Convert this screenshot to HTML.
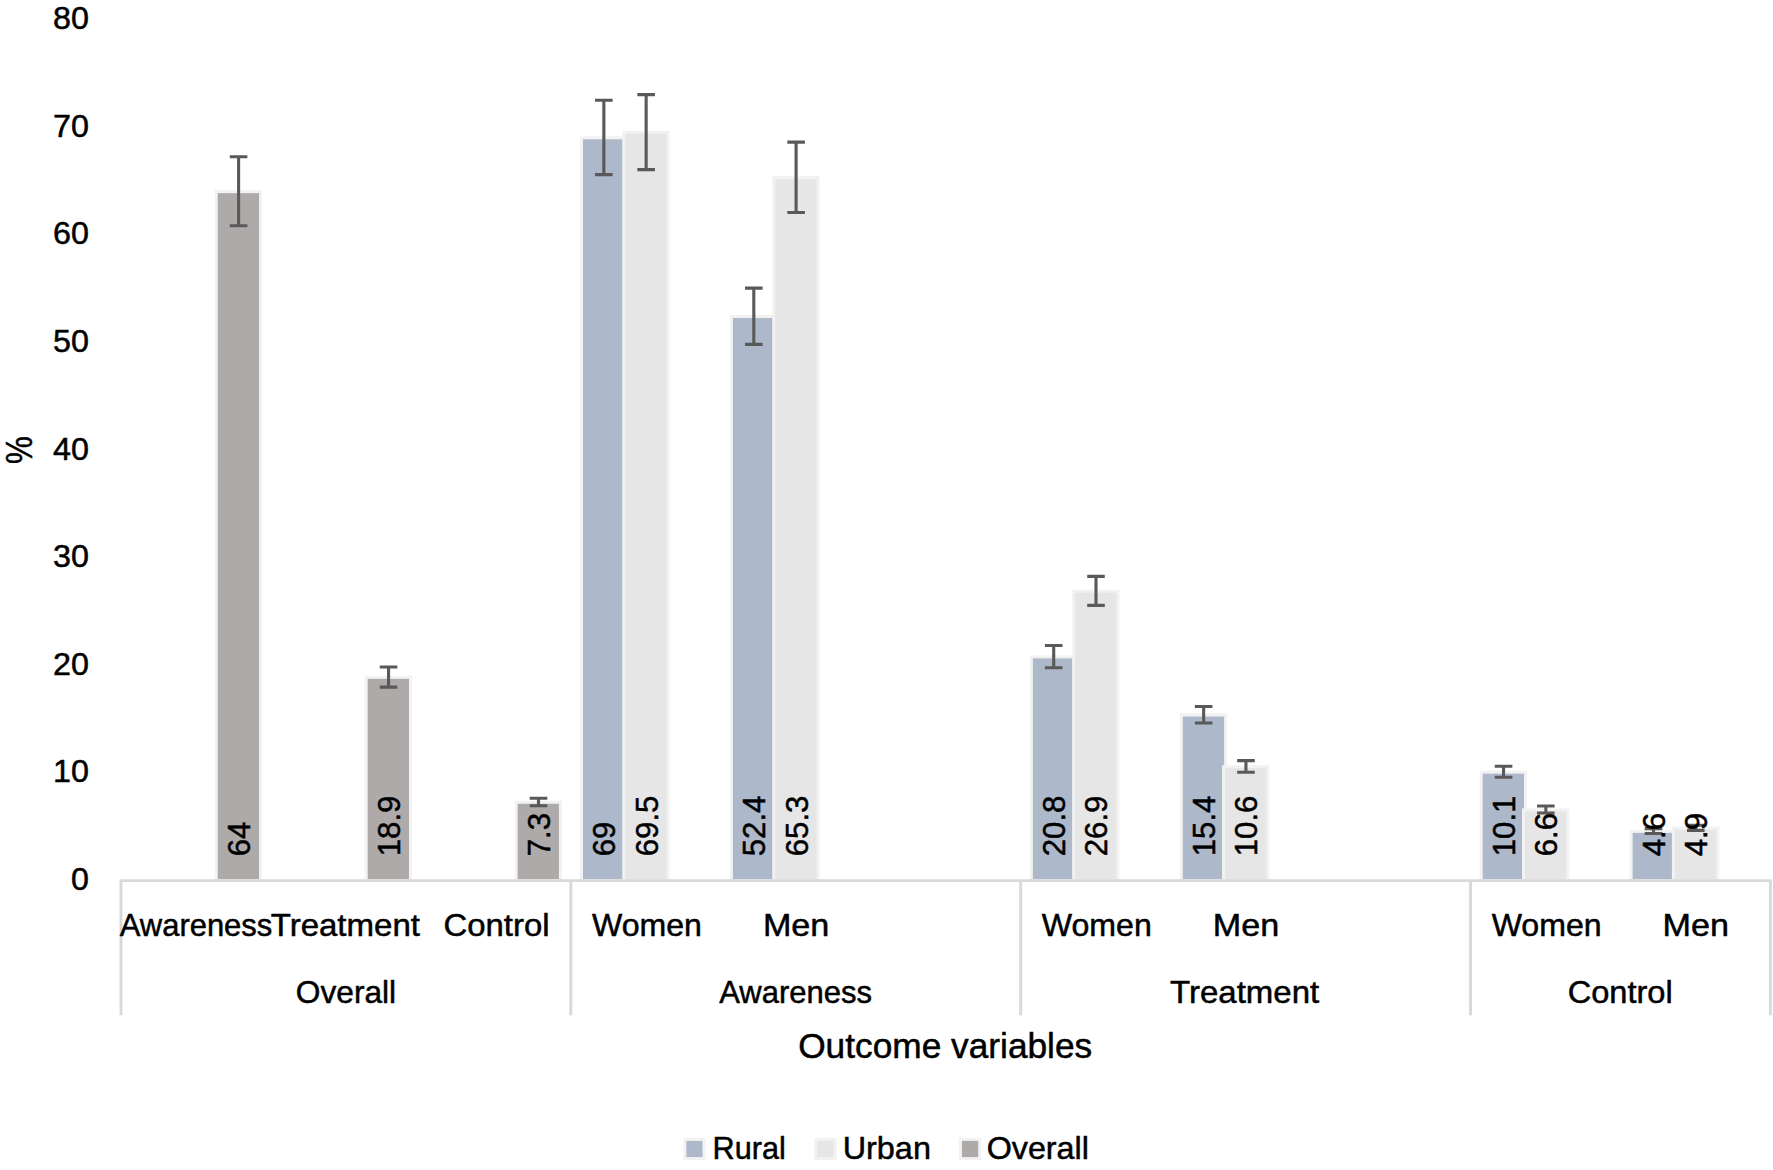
<!DOCTYPE html>
<html lang="en"><head><meta charset="utf-8"><title>Outcome variables chart</title>
<style>
html,body{margin:0;padding:0;background:#fff;}
body{width:1773px;height:1170px;overflow:hidden;}
svg{display:block;}
text{font-family:"Liberation Sans",sans-serif;fill:#000;stroke:#000;stroke-width:0.5px;stroke-linejoin:round;}
.bar{stroke:#f2f2f2;stroke-width:3;}
.ax{stroke:#d9d9d9;stroke-width:3;fill:none;}
.err{stroke:#595959;stroke-width:3.1;fill:none;}
</style></head><body>
<svg width="1773" height="1170" viewBox="0 0 1773 1170">
<rect width="1773" height="1170" fill="#ffffff"/>
<g font-size="32" text-anchor="end">
<text x="89.0" y="890.0" textLength="17.9" lengthAdjust="spacingAndGlyphs">0</text>
<text x="89.0" y="782.4" textLength="35.9" lengthAdjust="spacingAndGlyphs">10</text>
<text x="89.0" y="674.8" textLength="35.9" lengthAdjust="spacingAndGlyphs">20</text>
<text x="89.0" y="567.1" textLength="35.9" lengthAdjust="spacingAndGlyphs">30</text>
<text x="89.0" y="459.5" textLength="35.9" lengthAdjust="spacingAndGlyphs">40</text>
<text x="89.0" y="351.9" textLength="35.9" lengthAdjust="spacingAndGlyphs">50</text>
<text x="89.0" y="244.2" textLength="35.9" lengthAdjust="spacingAndGlyphs">60</text>
<text x="89.0" y="136.6" textLength="35.9" lengthAdjust="spacingAndGlyphs">70</text>
<text x="89.0" y="29.0" textLength="35.9" lengthAdjust="spacingAndGlyphs">80</text>
</g>
<text transform="translate(32.3,464.1) rotate(-90)" font-size="37.6" textLength="27.8" lengthAdjust="spacingAndGlyphs">%</text>
<g>
<rect class="bar" x="216.25" y="191.62" width="44.3" height="688.88" fill="#aeaaaa"/>
<rect class="bar" x="366.20" y="677.35" width="44.3" height="203.15" fill="#aeaaaa"/>
<rect class="bar" x="516.15" y="802.28" width="44.3" height="78.22" fill="#aeaaaa"/>
<rect class="bar" x="581.50" y="137.77" width="44.3" height="742.73" fill="#adb9ca"/>
<rect class="bar" x="623.80" y="132.38" width="44.3" height="748.12" fill="#e7e6e6"/>
<rect class="bar" x="731.45" y="316.55" width="44.3" height="563.95" fill="#adb9ca"/>
<rect class="bar" x="773.75" y="177.62" width="44.3" height="702.88" fill="#e7e6e6"/>
<rect class="bar" x="1031.35" y="656.88" width="44.3" height="223.62" fill="#adb9ca"/>
<rect class="bar" x="1073.65" y="591.19" width="44.3" height="289.31" fill="#e7e6e6"/>
<rect class="bar" x="1181.30" y="715.04" width="44.3" height="165.46" fill="#adb9ca"/>
<rect class="bar" x="1223.60" y="766.74" width="44.3" height="113.76" fill="#e7e6e6"/>
<rect class="bar" x="1481.20" y="772.12" width="44.3" height="108.38" fill="#adb9ca"/>
<rect class="bar" x="1523.50" y="809.82" width="44.3" height="70.68" fill="#e7e6e6"/>
<rect class="bar" x="1631.15" y="831.36" width="44.3" height="49.14" fill="#adb9ca"/>
<rect class="bar" x="1673.45" y="828.13" width="44.3" height="52.37" fill="#e7e6e6"/>
</g>
<g class="ax">
<path d="M121 1015.3V880.6H1770.4V1015.3" stroke-linejoin="round" stroke-width="2.9"/>
<path d="M570.85 880.6V1015.3"/>
<path d="M1020.7 880.6V1015.3"/>
<path d="M1470.55 880.6V1015.3"/>
</g>
<g class="err">
<path d="M238.60 156.82V225.82M229.80 156.82h17.6M229.80 225.82h17.6"/>
<path d="M388.55 667.00V687.10M379.75 667.00h17.6M379.75 687.10h17.6"/>
<path d="M538.50 798.18V805.78M529.70 798.18h17.6M529.70 805.78h17.6"/>
<path d="M603.85 100.27V174.67M595.05 100.27h17.6M595.05 174.67h17.6"/>
<path d="M646.15 94.58V169.58M637.35 94.58h17.6M637.35 169.58h17.6"/>
<path d="M753.80 288.10V344.40M745.00 288.10h17.6M745.00 344.40h17.6"/>
<path d="M796.10 142.12V212.52M787.30 142.12h17.6M787.30 212.52h17.6"/>
<path d="M1053.70 645.48V667.68M1044.90 645.48h17.6M1044.90 667.68h17.6"/>
<path d="M1096.00 576.39V605.39M1087.20 576.39h17.6M1087.20 605.39h17.6"/>
<path d="M1203.65 706.54V722.94M1194.85 706.54h17.6M1194.85 722.94h17.6"/>
<path d="M1245.95 760.59V772.29M1237.15 760.59h17.6M1237.15 772.29h17.6"/>
<path d="M1503.55 766.32V777.32M1494.75 766.32h17.6M1494.75 777.32h17.6"/>
<path d="M1545.85 806.02V813.02M1537.05 806.02h17.6M1537.05 813.02h17.6"/>
<path d="M1653.50 828.66V833.46M1644.70 828.66h17.6M1644.70 833.46h17.6"/>
<path d="M1695.80 825.28V830.38M1687.00 825.28h17.6M1687.00 830.38h17.6"/>
</g>
<g font-size="32">
<text transform="translate(250.00,856.3) rotate(-90)" textLength="34.6" lengthAdjust="spacingAndGlyphs">64</text>
<text transform="translate(399.95,856.3) rotate(-90)" textLength="60.7" lengthAdjust="spacingAndGlyphs">18.9</text>
<text transform="translate(549.90,856.3) rotate(-90)" textLength="43.4" lengthAdjust="spacingAndGlyphs">7.3</text>
<text transform="translate(615.25,856.3) rotate(-90)" textLength="34.6" lengthAdjust="spacingAndGlyphs">69</text>
<text transform="translate(657.55,856.3) rotate(-90)" textLength="60.7" lengthAdjust="spacingAndGlyphs">69.5</text>
<text transform="translate(765.20,856.3) rotate(-90)" textLength="60.7" lengthAdjust="spacingAndGlyphs">52.4</text>
<text transform="translate(807.50,856.3) rotate(-90)" textLength="60.7" lengthAdjust="spacingAndGlyphs">65.3</text>
<text transform="translate(1065.10,856.3) rotate(-90)" textLength="60.7" lengthAdjust="spacingAndGlyphs">20.8</text>
<text transform="translate(1107.40,856.3) rotate(-90)" textLength="60.7" lengthAdjust="spacingAndGlyphs">26.9</text>
<text transform="translate(1215.05,856.3) rotate(-90)" textLength="60.7" lengthAdjust="spacingAndGlyphs">15.4</text>
<text transform="translate(1257.35,856.3) rotate(-90)" textLength="60.7" lengthAdjust="spacingAndGlyphs">10.6</text>
<text transform="translate(1514.95,856.3) rotate(-90)" textLength="60.7" lengthAdjust="spacingAndGlyphs">10.1</text>
<text transform="translate(1557.25,856.3) rotate(-90)" textLength="43.4" lengthAdjust="spacingAndGlyphs">6.6</text>
<text transform="translate(1664.90,856.3) rotate(-90)" textLength="43.4" lengthAdjust="spacingAndGlyphs">4.6</text>
<text transform="translate(1707.20,856.3) rotate(-90)" textLength="43.4" lengthAdjust="spacingAndGlyphs">4.9</text>
</g>
<g font-size="31.5" text-anchor="middle">
<text x="196.00" y="936" textLength="152.5" lengthAdjust="spacingAndGlyphs">Awareness</text>
<text x="345.35" y="936" textLength="149.3" lengthAdjust="spacingAndGlyphs">Treatment</text>
<text x="496.55" y="936" textLength="106" lengthAdjust="spacingAndGlyphs">Control</text>
<text x="646.95" y="936" textLength="110" lengthAdjust="spacingAndGlyphs">Women</text>
<text x="796.10" y="936" textLength="66.4" lengthAdjust="spacingAndGlyphs">Men</text>
<text x="1096.80" y="936" textLength="110" lengthAdjust="spacingAndGlyphs">Women</text>
<text x="1245.95" y="936" textLength="66.4" lengthAdjust="spacingAndGlyphs">Men</text>
<text x="1546.65" y="936" textLength="110" lengthAdjust="spacingAndGlyphs">Women</text>
<text x="1695.80" y="936" textLength="66.4" lengthAdjust="spacingAndGlyphs">Men</text>
<text x="346" y="1002.7" textLength="100.3" lengthAdjust="spacingAndGlyphs">Overall</text>
<text x="795.55" y="1002.7" textLength="152.8" lengthAdjust="spacingAndGlyphs">Awareness</text>
<text x="1244.6" y="1002.7" textLength="149.1" lengthAdjust="spacingAndGlyphs">Treatment</text>
<text x="1620.2" y="1002.7" textLength="105" lengthAdjust="spacingAndGlyphs">Control</text>
<text x="945.2" y="1057.7" font-size="35" textLength="294" lengthAdjust="spacingAndGlyphs">Outcome variables</text>
</g>
<g font-size="31.5">
<rect class="bar" x="684.8" y="1139.4" width="19.2" height="19.2" fill="#adb9ca"/>
<text x="712.6" y="1158.6" textLength="73.2" lengthAdjust="spacingAndGlyphs">Rural</text>
<rect class="bar" x="815.8" y="1139.4" width="19.2" height="19.2" fill="#e7e6e6"/>
<text x="842.7" y="1158.6" textLength="88.2" lengthAdjust="spacingAndGlyphs">Urban</text>
<rect class="bar" x="960.5" y="1139.4" width="19.2" height="19.2" fill="#aeaaaa"/>
<text x="986.7" y="1158.6" textLength="102.2" lengthAdjust="spacingAndGlyphs">Overall</text>
</g>
</svg></body></html>
